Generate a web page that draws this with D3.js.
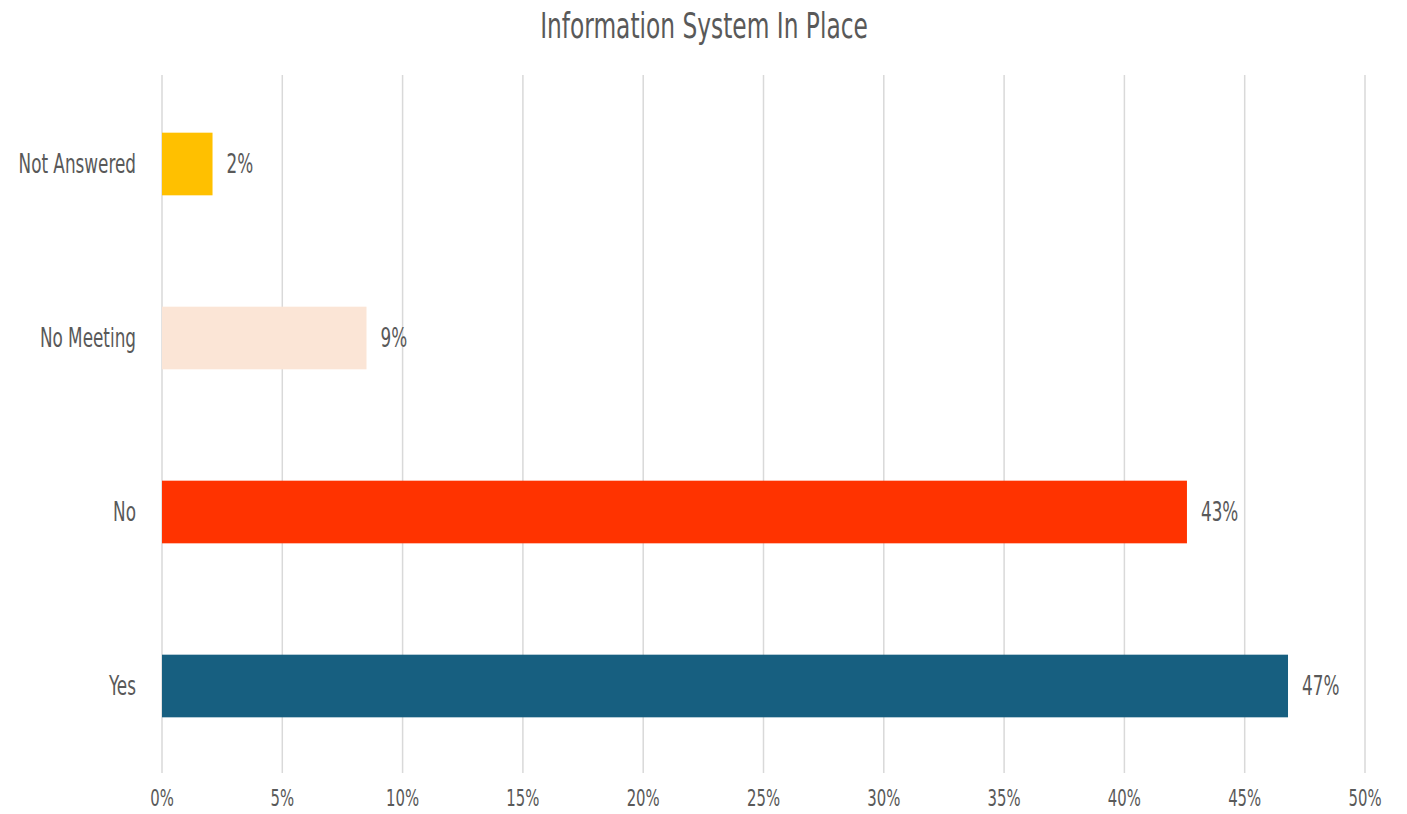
<!DOCTYPE html>
<html>
<head>
	<script src="https://cdn.jsdelivr.net/npm/d3@7"></script>
	<style>
		body { margin: 0; background: #fff; }
		text { font-family: "DejaVu Sans Condensed", "DejaVu Sans", sans-serif; font-stretch: condensed; fill: #595959; }
	</style>
</head>
<body>
	<script type="text/javascript">

		//categories, top to bottom
		var categories = ["Not Answered", "No Meeting", "No", "Yes"];
		//share of answers (%)
		var values = [2.1, 8.5, 42.6, 46.8];
		var labels = ["2%", "9%", "43%", "47%"];
		var colors = ["#FFC000", "#FBE5D6", "#FF3300", "#175F80"];
		var ticks = [0, 5, 10, 15, 20, 25, 30, 35, 40, 45, 50];

		var w = 1407;
		var h = 814;
		//the reference font is very narrow, so squeeze text horizontally
		var squeeze = 0.72;

		var svg = d3.select("body")
				.append("svg")
				.attr("width", w)
				.attr("height", h);

		//plot area
		var plotLeft = 162, plotRight = 1365, plotTop = 77, plotBottom = 773;

		var xScale = d3.scaleLinear()
						.domain([0, 50])
						.range([plotLeft, plotRight]);

		var yScale = d3.scaleBand()
						.domain(categories)
						.range([plotTop, plotBottom])
						.paddingInner(0.64)
						.paddingOuter(0.32);

		var place = function(x, y) {
			return "translate(" + x + "," + y + ") scale(" + squeeze + ",1)";
		};

		//title
		svg.append("text")
			.attr("transform", place(704, 38))
			.attr("text-anchor", "middle")
			.style("font-size", "36px")
			.text("Information System In Place");

		//vertical gridlines
		svg.selectAll("line.grid")
			.data(ticks)
			.enter()
			.append("line")
			.attr("class", "grid")
			.attr("x1", function(d){ return xScale(d); })
			.attr("x2", function(d){ return xScale(d); })
			.attr("y1", 75)
			.attr("y2", plotBottom)
			.attr("stroke", "#d9d9d9")
			.attr("stroke-width", 1.5);

		//x tick labels
		svg.selectAll("text.tick")
			.data(ticks)
			.enter()
			.append("text")
			.attr("class", "tick")
			.attr("transform", function(d){ return place(xScale(d), 806); })
			.attr("text-anchor", "middle")
			.style("font-size", "23px")
			.text(function(d){ return d + "%"; });

		//bars
		svg.selectAll("rect")
			.data(values)
			.enter()
			.append("rect")
			.attr("x", xScale(0))
			.attr("y", function(d, i){ return yScale(categories[i]); })
			.attr("width", function(d){ return xScale(d) - xScale(0); })
			.attr("height", yScale.bandwidth())
			.attr("fill", function(d, i){ return colors[i]; });

		//category labels
		svg.selectAll("text.cat")
			.data(categories)
			.enter()
			.append("text")
			.attr("class", "cat")
			.attr("transform", function(d){ return place(136, yScale(d) + yScale.bandwidth() / 2); })
			.attr("dy", "0.36em")
			.attr("text-anchor", "end")
			.style("font-size", "26px")
			.text(function(d){ return d; });

		//value labels
		svg.selectAll("text.val")
			.data(values)
			.enter()
			.append("text")
			.attr("class", "val")
			.attr("transform", function(d, i){ return place(xScale(d) + 14, yScale(categories[i]) + yScale.bandwidth() / 2); })
			.attr("dy", "0.36em")
			.style("font-size", "26px")
			.text(function(d, i){ return labels[i]; });

	</script>
</body>
</html>
